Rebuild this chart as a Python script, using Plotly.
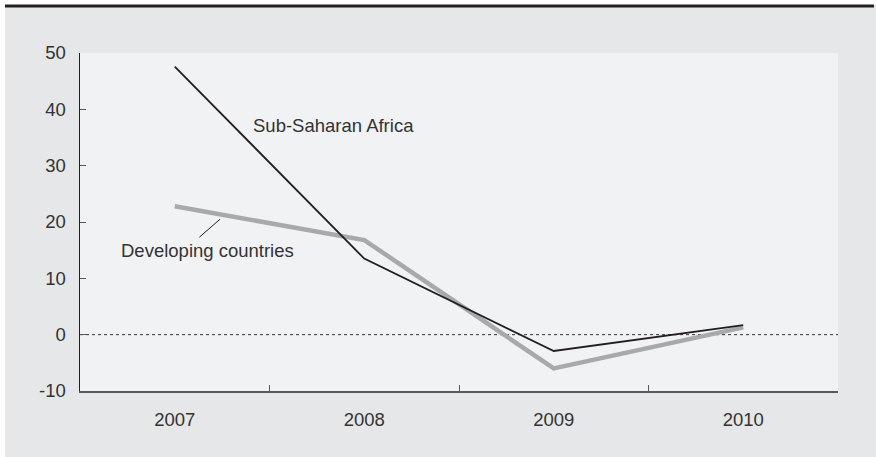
import plotly.graph_objects as go

years = ["2007", "2008", "2009", "2010"]
sub_saharan = [47.6, 13.5, -2.9, 1.7]
developing = [22.8, 16.8, -6.0, 1.3]
y_ticks = [-10, 0, 10, 20, 30, 40, 50]
y_tick_labels = ["-10", "0", "10", "20", "30", "40", "50"]

FONT = "Liberation Sans, Arial, sans-serif"
TXT = "#333333"
FS = 18.5

fig = go.Figure()
fig.add_trace(go.Scatter(x=years, y=developing, mode="lines",
                         line=dict(color="#a7a9ac", width=4.5),
                         name="Developing countries", hoverinfo="skip"))
fig.add_trace(go.Scatter(x=years, y=sub_saharan, mode="lines",
                         line=dict(color="#231f20", width=1.8),
                         name="Sub-Saharan Africa", hoverinfo="skip"))

L, R, T, B = 80, 38, 53, 66
W, H = 876, 457
pw, ph = W - L - R, H - T - B

def px_x(p):
    return (p - L) / pw

def px_y(p):
    return (H - B - p) / ph

shapes = [
    dict(type="line", xref="paper", yref="y", x0=0, x1=1, y0=0, y1=0,
         line=dict(color="#333333", width=1, dash="dot"), layer="below"),
    dict(type="rect", xref="paper", yref="paper", x0=px_x(-2), x1=px_x(5),
         y0=px_y(H + 2), y1=px_y(-2), fillcolor="white", line=dict(width=0)),
    dict(type="rect", xref="paper", yref="paper", x0=px_x(-2), x1=px_x(W + 2),
         y0=px_y(5), y1=px_y(-2), fillcolor="white", line=dict(width=0)),
    dict(type="rect", xref="paper", yref="paper", x0=px_x(5), x1=px_x(874),
         y0=px_y(7.5), y1=px_y(4.5), fillcolor="#231f20", line=dict(width=0)),
    dict(type="line", xref="x", yref="y", x0=0.130, y0=17.3, x1=0.239, y1=20.5,
         line=dict(color="#231f20", width=1)),
]

annotations = [
    dict(x=0.839, y=37.2, xref="x", yref="y", text="Sub-Saharan Africa",
         showarrow=False, font=dict(family=FONT, size=FS, color=TXT)),
    dict(x=0.1725, y=15.0, xref="x", yref="y", text="Developing countries",
         showarrow=False, font=dict(family=FONT, size=FS, color=TXT)),
]

fig.update_layout(
    width=W, height=H,
    margin=dict(l=L, r=R, t=T, b=B, pad=0),
    paper_bgcolor="#e6e7e8",
    plot_bgcolor="#f1f2f4",
    showlegend=False,
    font=dict(family=FONT, size=FS, color=TXT),
    shapes=shapes,
    annotations=annotations,
    xaxis=dict(type="category", range=[-0.5, 3.5], showgrid=False, zeroline=False,
               showline=True, linecolor="#58595b", linewidth=1.5,
               ticks="inside", ticklen=6, tickcolor="#58595b", tickwidth=1,
               tickson="boundaries", ticklabelstandoff=11,
               tickfont=dict(family=FONT, size=FS, color=TXT)),
    yaxis=dict(range=[-10, 50], tickvals=y_ticks, ticktext=y_tick_labels,
               showgrid=False, zeroline=False,
               showline=True, linecolor="#231f20", linewidth=1.5,
               ticks="inside", ticklen=6, tickcolor="#58595b", tickwidth=1,
               ticklabelstandoff=9,
               tickfont=dict(family=FONT, size=FS, color=TXT)),
)

fig.write_html("out.html",
               config=dict(displayModeBar=False, staticPlot=True),
               post_script="document.body.style.margin='0';document.body.style.overflow='hidden';"
                           "document.body.style.background='#e6e7e8';"
                           "document.documentElement.style.background='#e6e7e8';")
